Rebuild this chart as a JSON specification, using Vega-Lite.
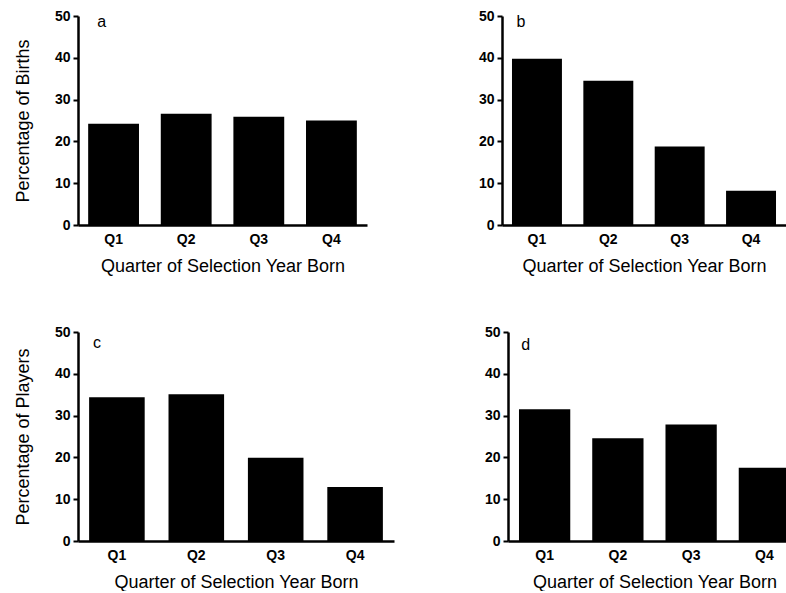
{
  "$schema": "https://vega.github.io/schema/vega-lite/v6.json",
  "background": "white",
  "padding": {"left": 14, "top": 9, "right": 0, "bottom": 0},
  "config": {
    "view": {"stroke": null},
    "font": "Liberation Sans",
    "axis": {
      "domainColor": "black",
      "domainWidth": 2.5,
      "tickColor": "black",
      "tickWidth": 2,
      "tickSize": 5,
      "labelColor": "black",
      "labelFont": "Liberation Sans",
      "labelFontWeight": "bold",
      "labelFontSize": 14,
      "labelPadding": 3,
      "titleColor": "black",
      "titleFont": "Liberation Sans",
      "titleFontWeight": "normal",
      "titleFontSize": 18,
      "grid": false
    },
    "axisX": {"ticks": false, "labelAngle": 0, "labelPadding": 7, "titlePadding": 11},
    "axisY": {"titlePadding": 22, "values": [0, 10, 20, 30, 40, 50]},
    "text": {"font": "Liberation Sans", "fontSize": 16, "color": "black"}
  },
  "data": {
    "values": [
      {"panel": "a", "quarter": "Q1", "pct": 24.2},
      {"panel": "a", "quarter": "Q2", "pct": 26.6},
      {"panel": "a", "quarter": "Q3", "pct": 25.9},
      {"panel": "a", "quarter": "Q4", "pct": 25.0},
      {"panel": "b", "quarter": "Q1", "pct": 39.8},
      {"panel": "b", "quarter": "Q2", "pct": 34.5},
      {"panel": "b", "quarter": "Q3", "pct": 18.8},
      {"panel": "b", "quarter": "Q4", "pct": 8.2},
      {"panel": "c", "quarter": "Q1", "pct": 34.4},
      {"panel": "c", "quarter": "Q2", "pct": 35.1},
      {"panel": "c", "quarter": "Q3", "pct": 19.9},
      {"panel": "c", "quarter": "Q4", "pct": 12.9},
      {"panel": "d", "quarter": "Q1", "pct": 31.5},
      {"panel": "d", "quarter": "Q2", "pct": 24.6},
      {"panel": "d", "quarter": "Q3", "pct": 27.9},
      {"panel": "d", "quarter": "Q4", "pct": 17.5}
    ]
  },
  "spacing": 50,
  "vconcat": [
    {
      "spacing": 111,
      "hconcat": [
        {
          "width": 289, "height": 209,
          "transform": [{"filter": "datum.panel === 'a'"}],
          "layer": [
            {
              "mark": {"type": "bar", "color": "black"},
              "encoding": {
                "x": {"field": "quarter", "type": "nominal", "scale": {"paddingInner": 0.3, "paddingOuter": 0.14}, "axis": {"title": "Quarter of Selection Year Born"}},
                "y": {"field": "pct", "type": "quantitative", "scale": {"domain": [0, 50]}, "axis": {"title": "Percentage of Births"}}
              }
            },
            {
              "data": {"values": [{"label": "a"}]},
              "mark": {"type": "text", "align": "center", "baseline": "middle", "dx": -12},
              "encoding": {"x": {"datum": "Q1", "type": "nominal"}, "y": {"datum": 48.5, "type": "quantitative"}, "text": {"field": "label"}}
            }
          ]
        },
        {
          "width": 284, "height": 209,
          "transform": [{"filter": "datum.panel === 'b'"}],
          "layer": [
            {
              "mark": {"type": "bar", "color": "black"},
              "encoding": {
                "x": {"field": "quarter", "type": "nominal", "scale": {"paddingInner": 0.3, "paddingOuter": 0.14}, "axis": {"title": "Quarter of Selection Year Born"}},
                "y": {"field": "pct", "type": "quantitative", "scale": {"domain": [0, 50]}, "axis": {"title": null}}
              }
            },
            {
              "data": {"values": [{"label": "b"}]},
              "mark": {"type": "text", "align": "center", "baseline": "middle", "dx": -16},
              "encoding": {"x": {"datum": "Q1", "type": "nominal"}, "y": {"datum": 48.5, "type": "quantitative"}, "text": {"field": "label"}}
            }
          ]
        }
      ]
    },
    {
      "spacing": 90,
      "hconcat": [
        {
          "width": 316, "height": 209,
          "transform": [{"filter": "datum.panel === 'c'"}],
          "layer": [
            {
              "mark": {"type": "bar", "color": "black"},
              "encoding": {
                "x": {"field": "quarter", "type": "nominal", "scale": {"paddingInner": 0.3, "paddingOuter": 0.14}, "axis": {"title": "Quarter of Selection Year Born"}},
                "y": {"field": "pct", "type": "quantitative", "scale": {"domain": [0, 50]}, "axis": {"title": "Percentage of Players"}}
              }
            },
            {
              "data": {"values": [{"label": "c"}]},
              "mark": {"type": "text", "align": "center", "baseline": "middle", "dx": -20},
              "encoding": {"x": {"datum": "Q1", "type": "nominal"}, "y": {"datum": 47.4, "type": "quantitative"}, "text": {"field": "label"}}
            }
          ]
        },
        {
          "width": 293, "height": 209,
          "transform": [{"filter": "datum.panel === 'd'"}],
          "layer": [
            {
              "mark": {"type": "bar", "color": "black"},
              "encoding": {
                "x": {"field": "quarter", "type": "nominal", "scale": {"paddingInner": 0.3, "paddingOuter": 0.15}, "axis": {"title": "Quarter of Selection Year Born"}},
                "y": {"field": "pct", "type": "quantitative", "scale": {"domain": [0, 50]}, "axis": {"title": null}}
              }
            },
            {
              "data": {"values": [{"label": "d"}]},
              "mark": {"type": "text", "align": "center", "baseline": "middle", "dx": -19},
              "encoding": {"x": {"datum": "Q1", "type": "nominal"}, "y": {"datum": 47, "type": "quantitative"}, "text": {"field": "label"}}
            }
          ]
        }
      ]
    }
  ]
}
